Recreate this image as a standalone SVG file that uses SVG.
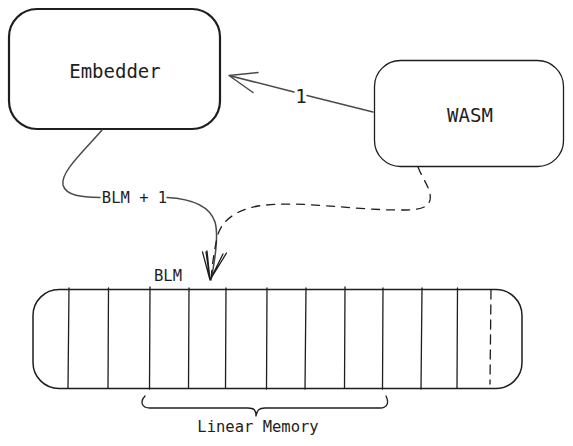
<svg xmlns="http://www.w3.org/2000/svg" width="573" height="446" viewBox="0 0 573 446">
<style>
.box{fill:#fff;stroke:#1e1e1e;stroke-linecap:round;stroke-linejoin:round}
.t{font-family:"DejaVu Sans Mono","Liberation Mono",monospace;fill:#1e1e1e}
.ln{fill:none;stroke:#1e1e1e;stroke-width:1.3;stroke-linecap:round;stroke-linejoin:round}
.gr{fill:none;stroke:#4a4a4a;stroke-width:1.5;stroke-linecap:round;stroke-linejoin:round}
.cell{stroke:#1e1e1e;stroke-width:1.3;stroke-linecap:round}
</style>
<rect width="573" height="446" fill="#fff"/>
<g id="embedder">
<rect class="box" x="9" y="9" width="211" height="120" rx="28" ry="28" stroke-width="2.2"/>
<text class="t" x="115" y="78" font-size="19" text-anchor="middle">Embedder</text>
</g>
<g id="wasm">
<rect class="box" x="374.5" y="60.5" width="189" height="106" rx="26" ry="26" stroke-width="1.3"/>
<text class="t" x="470" y="122" font-size="19" text-anchor="middle">WASM</text>
</g>
<g id="memory">
<rect class="box" x="33" y="289.5" width="489" height="99" rx="26" ry="26" stroke-width="1.5"/>
<line class="cell" x1="69" y1="288" x2="68" y2="388"/>
<line class="cell" x1="108.5" y1="288" x2="108" y2="388"/>
<line class="cell" x1="150" y1="287" x2="149.5" y2="389"/>
<line class="cell" x1="189" y1="288" x2="188.5" y2="388"/>
<line class="cell" x1="226" y1="288" x2="225.5" y2="388"/>
<line class="cell" x1="267" y1="288" x2="266.5" y2="389"/>
<line class="cell" x1="306" y1="288" x2="305" y2="389"/>
<line class="cell" x1="345" y1="287" x2="344.5" y2="388"/>
<line class="cell" x1="383" y1="288" x2="382.5" y2="389"/>
<line class="cell" x1="422" y1="288" x2="421" y2="389"/>
<line class="cell" x1="457.5" y1="288" x2="457" y2="388"/>
<line class="cell" x1="491" y1="290" x2="490" y2="384" stroke-dasharray="9 6"/>
<text class="t" x="168" y="281" font-size="15.5" text-anchor="middle">BLM</text>
</g>
<g id="brace">
<path class="ln" d="M145,396 C140,401 141,408 150,408 L248,408 C254,408 256,410 256,416 C257,410 259,408 265,408 L380,408 C388,408 389,402 386,396"/>
<text class="t" x="258" y="432" font-size="15.5" text-anchor="middle">Linear Memory</text>
</g>
<g id="connectors">
<path class="gr" d="M373,112 L307,95.5 M294,92 L229,75.5 M229,75.5 L258,72.5 M229,75.5 L253,92.5"/>
<text class="t" x="301" y="103" font-size="19" text-anchor="middle">1</text>
<path class="gr" d="M102,130 C85,150 60,172 63,185 C66,196 82,197 100,197.5"/>
<path class="gr" d="M167,197.5 C195,199 210,207 215,222 C219,236 215,260 211,280"/>
<text class="t" x="134.5" y="203" font-size="15.5" text-anchor="middle">BLM + 1</text>
<path class="ln" stroke-width="1.5" stroke-dasharray="8 7" d="M418,167 C423,180 432,190 430,200 C428,208 420,210 400,210 C350,210 300,200 258,206 C235,210 220,222 217,238 C214,252 212,266 211,280"/>
<path class="ln" d="M202.5,252 L210,280 L207,251 M210,280 L223,254 M210,280 L226.5,253 M210,280 L206,252"/>
</g>
</svg>
